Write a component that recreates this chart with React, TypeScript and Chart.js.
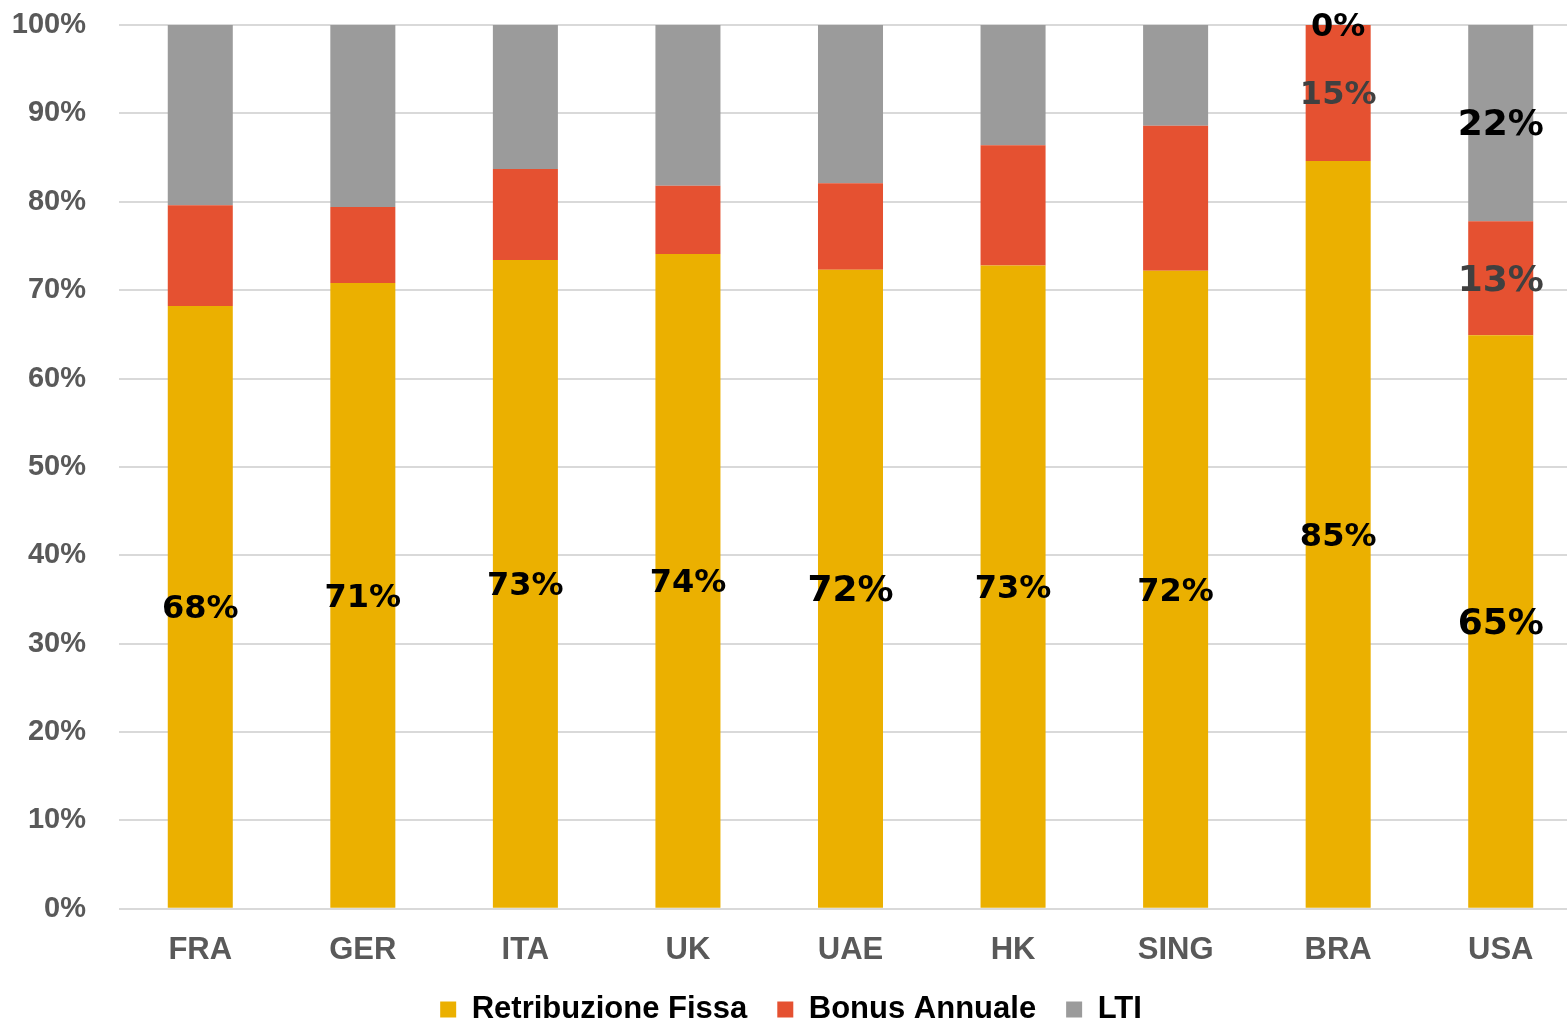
import React, { useEffect, useRef } from "react";
import { Chart, registerables } from "chart.js";

Chart.register(...registerables);

// ---- data ----
const categories = ["FRA", "GER", "ITA", "UK", "UAE", "HK", "SING", "BRA", "USA"];
const seriesNames = ["Retribuzione Fissa", "Bonus Annuale", "LTI"];
const retribuzioneFissa = [68.2, 70.8, 73.4, 74.1, 72.3, 72.8, 72.2, 84.6, 64.9];
const bonusAnnuale = [11.4, 8.6, 10.3, 7.7, 9.8, 13.6, 16.4, 15.4, 12.9];
const lti = [20.4, 20.6, 16.3, 18.2, 17.9, 13.6, 11.4, 0, 22.2];
const yTickStep = 10;
// categories whose segments carry a value label, per series
const labelledFissa = categories;
const labelledBonus = ["BRA", "USA"];
const labelledLti = ["BRA", "USA"];

// ---- styles ----
const seriesColors = ["#EBB000", "#E55131", "#9B9B9B"];
const labelColors = ["#000000", "#404040", "#000000"];
const largeLabelCats = ["UAE", "USA"];
const axisFont = '"Liberation Sans", Arial, sans-serif';
const labelFont = '"DejaVu Sans", Verdana, sans-serif';

const labelledPerSeries = [labelledFissa, labelledBonus, labelledLti];

const dataLabelPlugin = {
  id: "segmentLabels",
  afterDatasetsDraw(chart: any) {
    const ctx = chart.ctx;
    chart.data.datasets.forEach((ds: any, di: number) => {
      const meta = chart.getDatasetMeta(di);
      meta.data.forEach((el: any, i: number) => {
        const cat = categories[i];
        if (!labelledPerSeries[di].includes(cat)) return;
        const { x, y, base } = el.getProps(["x", "y", "base"], true);
        const v = ds.data[i];
        const size = largeLabelCats.includes(cat) ? 36 : 32;
        ctx.save();
        ctx.font = `bold ${size}px ${labelFont}`;
        ctx.fillStyle = labelColors[di];
        ctx.textAlign = "center";
        ctx.textBaseline = "middle";
        ctx.fillText(`${Math.round(v)}%`, x, (y + base) / 2 + 3);
        ctx.restore();
      });
    });
  },
};

export default function App() {
  const ref = useRef<HTMLCanvasElement | null>(null);

  useEffect(() => {
    if (!ref.current) return;
    const seriesData = [retribuzioneFissa, bonusAnnuale, lti];
    const chart = new Chart(ref.current, {
      type: "bar",
      data: {
        labels: categories,
        datasets: seriesNames.map((name, k) => ({
          label: name,
          data: seriesData[k],
          backgroundColor: seriesColors[k],
          borderWidth: 0,
          barPercentage: 0.4,
          categoryPercentage: 1,
        })),
      },
      options: {
        responsive: false,
        animation: false,
        devicePixelRatio: 1,
        layout: { padding: { top: 25, left: 0, right: 0, bottom: -12 } },
        plugins: {
          tooltip: { enabled: false },
          legend: {
            position: "bottom",
            labels: {
              boxWidth: 16,
              boxHeight: 16,
              padding: 30,
              color: "#000000",
              font: { family: axisFont, size: 31, weight: "bold" },
            },
          },
        },
        scales: {
          x: {
            stacked: true,
            grid: { display: false, drawTicks: false },
            border: { display: false },
            afterFit: (scale: any) => {
              scale.height -= 28;
            },
            ticks: {
              color: "#595959",
              padding: 23,
              font: { family: axisFont, size: 31, weight: "bold" },
            },
          },
          y: {
            stacked: true,
            min: 0,
            max: 100,
            afterFit: (scale: any) => {
              scale.width = 119;
            },
            grid: {
              color: "#D9D9D9",
              lineWidth: 2,
              drawTicks: true,
              tickLength: 33,
              tickColor: "rgba(0,0,0,0)",
            },
            border: { display: false },
            ticks: {
              stepSize: yTickStep,
              padding: 0,
              color: "#595959",
              font: { family: axisFont, size: 29, weight: "bold" },
              callback: (v: any) => `${v}%`,
            },
          },
        },
      },
      plugins: [dataLabelPlugin],
    });
    return () => chart.destroy();
  }, []);

  return (
    <div
      style={{
        position: "fixed",
        left: 0,
        top: 0,
        width: 1567,
        height: 1023,
        overflow: "hidden",
        background: "#ffffff",
      }}
    >
      <canvas ref={ref} width={1582} height={1023} style={{ display: "block", width: 1582, height: 1023 }} />
    </div>
  );
}
